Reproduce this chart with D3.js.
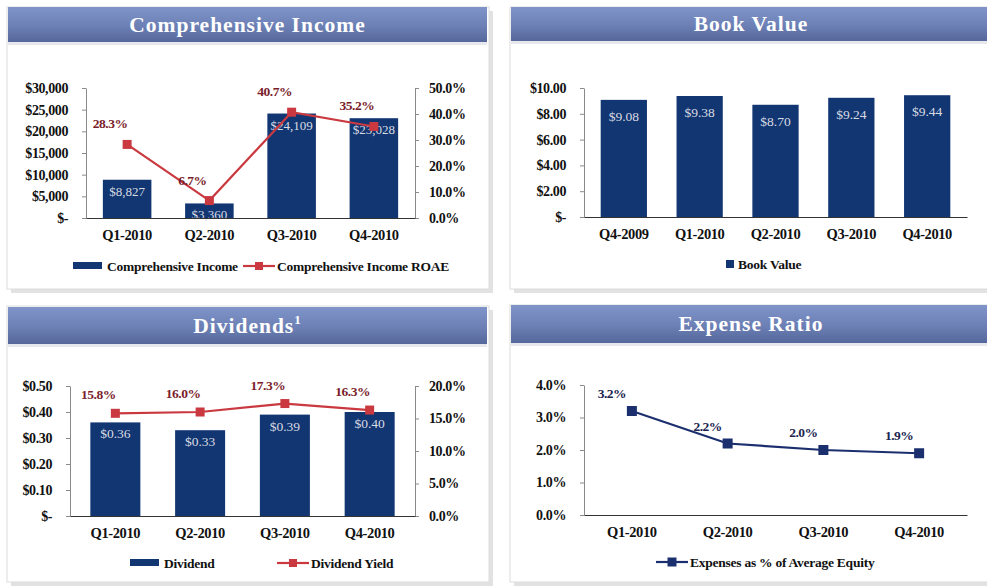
<!DOCTYPE html>
<html><head><meta charset="utf-8">
<script src="https://cdn.jsdelivr.net/npm/d3@7"></script>
<style>
body{margin:0;background:#fff;}
svg{display:block;}
text{font-family:"Liberation Serif","Times New Roman",serif;}
</style></head>
<body><svg id="c" width="987" height="588"></svg>
<script>
// ---------- DATA ----------
const ciCategories = ["Q1-2010","Q2-2010","Q3-2010","Q4-2010"];
const ciIncome = [8827, 3360, 24109, 23028];
const ciROAE = [28.3, 6.7, 40.7, 35.2];
const ciLeftTicks = [0, 5000, 10000, 15000, 20000, 25000, 30000];
const ciRightTicks = [0, 10, 20, 30, 40, 50];

const bvCategories = ["Q4-2009","Q1-2010","Q2-2010","Q3-2010","Q4-2010"];
const bvValues = [9.08, 9.38, 8.70, 9.24, 9.44];
const bvTicks = [0, 2, 4, 6, 8, 10];

const divCategories = ["Q1-2010","Q2-2010","Q3-2010","Q4-2010"];
const divValues = [0.36, 0.33, 0.39, 0.40];
const divYield = [15.8, 16.0, 17.3, 16.3];
const divLeftTicks = [0, 0.1, 0.2, 0.3, 0.4, 0.5];
const divRightTicks = [0, 5, 10, 15, 20];

const expCategories = ["Q1-2010","Q2-2010","Q3-2010","Q4-2010"];
const expRatio = [3.2, 2.2, 2.0, 1.9];
const expTicks = [0, 1, 2, 3, 4];

const titles = ["Comprehensive Income", "Book Value", "Dividends", "Expense Ratio"];
const legendLabels = {
  ci: ["Comprehensive Income", "Comprehensive Income ROAE"],
  bv: ["Book Value"],
  div: ["Dividend", "Dividend Yield"],
  exp: ["Expenses as % of Average Equity"]
};

// ---------- STYLE ----------
const NAVY = "#123672", RED = "#c9393f", MAROON = "#7a1d2b", AXIS = "#8a8a8a";
const svg = d3.select("#c");
const defs = svg.append("defs");
const grad = defs.append("linearGradient").attr("id","hdr").attr("x1",0).attr("y1",0).attr("x2",0).attr("y2",1);
grad.append("stop").attr("offset","0%").attr("stop-color","#7f94c9");
grad.append("stop").attr("offset","55%").attr("stop-color","#6c80b5");
grad.append("stop").attr("offset","100%").attr("stop-color","#55679b");

const money0 = d3.format("$,.0f"), money2 = d3.format("$.2f");
const dollarTick = f => v => v === 0 ? "$-" : f(v);
const pct1 = v => d3.format(".1f")(v) + "%";

function card(x, y, w, h, hx, hy, hw, hh, title, sup) {
  svg.append("rect").attr("x", x+4).attr("y", y+4).attr("width", w).attr("height", h).attr("fill", "#e2e2e2");
  svg.append("rect").attr("x", x).attr("y", y).attr("width", w).attr("height", h).attr("fill", "#fff").attr("stroke", "#dcdcdc");
  svg.append("rect").attr("x", hx).attr("y", hy+hh).attr("width", hw).attr("height", 3).attr("fill", "#e6e8ee");
  svg.append("rect").attr("x", hx).attr("y", hy).attr("width", hw).attr("height", hh).attr("fill", "url(#hdr)");
  const t = svg.append("text").attr("x", hx + hw/2).attr("y", hy + hh/2 + 7)
    .attr("text-anchor", "middle").attr("fill", "#fff").attr("font-weight", "bold")
    .attr("font-size", 21.5).attr("letter-spacing", 1).text(title);
  if (sup) t.append("tspan").attr("font-size", 13).attr("dy", -9).text(sup);
}

function leftAxis(y, x, ticks, fmt) {
  const ax = d3.axisLeft(y).tickValues(ticks).tickFormat(fmt).tickSize(4).tickSizeOuter(0).tickPadding(14);
  const g = svg.append("g").attr("transform", `translate(${x},0)`).call(ax);
  styleAxis(g);
  return g;
}
function rightAxis(y, x, ticks, fmt) {
  const ax = d3.axisRight(y).tickValues(ticks).tickFormat(fmt).tickSize(4).tickSizeOuter(0).tickPadding(10);
  const g = svg.append("g").attr("transform", `translate(${x},0)`).call(ax);
  styleAxis(g);
  return g;
}
function styleAxis(g) {
  g.select(".domain").attr("stroke", AXIS);
  g.selectAll(".tick line").attr("stroke", AXIS);
  g.selectAll("text").attr("fill", "#111").attr("font-weight", "bold").attr("font-size", 14)
    .attr("font-family", "Liberation Serif, serif").attr("letter-spacing", -0.4);
}
function bottomAxis(x, yPos, cats) {
  const ax = d3.axisBottom(x).tickSize(0).tickPadding(12);
  const g = svg.append("g").attr("transform", `translate(0,${yPos})`).call(ax);
  g.select(".domain").attr("stroke", "#333").attr("stroke-width", 1.2);
  g.selectAll("text").attr("fill", "#111").attr("font-weight", "bold").attr("font-size", 14.5)
    .attr("font-family", "Liberation Serif, serif").attr("letter-spacing", -0.4);
  return g;
}
function bars(x, y, cats, vals, fmt, labelDy, labelSize) {
  const g = svg.append("g");
  g.selectAll("rect").data(vals).join("rect")
    .attr("x", (d,i) => x(cats[i])).attr("width", x.bandwidth())
    .attr("y", d => y(d)).attr("height", d => y(0) - y(d)).attr("fill", NAVY);
  g.selectAll("text").data(vals).join("text")
    .attr("x", (d,i) => x(cats[i]) + x.bandwidth()/2).attr("y", d => y(d) + labelDy)
    .attr("text-anchor", "middle").attr("fill", "#d9dbe2").attr("font-size", labelSize)
    .text(fmt);
}
function line(x, y, cats, vals, color, ms, labelColor, dx, dy) {
  const cx = (d,i) => x(cats[i]) + x.bandwidth()/2;
  const g = svg.append("g");
  g.append("path").datum(vals)
    .attr("d", d3.line().x(cx).y(d => y(d)))
    .attr("fill", "none").attr("stroke", color).attr("stroke-width", 2.2);
  g.selectAll("rect").data(vals).join("rect")
    .attr("x", (d,i) => cx(d,i) - ms/2).attr("y", d => y(d) - ms/2)
    .attr("width", ms).attr("height", ms).attr("fill", color);
  g.selectAll("text").data(vals).join("text")
    .attr("x", (d,i) => cx(d,i) + dx).attr("y", d => y(d) + dy)
    .attr("text-anchor", "middle").attr("fill", labelColor).attr("font-weight", "bold")
    .attr("font-size", 13.5).attr("letter-spacing", -0.5).text(pct1);
}
function legendBar(x, y, label) {
  svg.append("rect").attr("x", x).attr("y", y-4).attr("width", 29).attr("height", 7).attr("fill", NAVY);
  legText(x + 34, y, label);
}
function legendLine(x, y, label, color, ms) {
  svg.append("line").attr("x1", x).attr("x2", x+32).attr("y1", y).attr("y2", y).attr("stroke", color).attr("stroke-width", 2.2);
  svg.append("rect").attr("x", x+16-ms/2).attr("y", y-ms/2).attr("width", ms).attr("height", ms).attr("fill", color);
  legText(x + 34, y, label);
}
function legText(x, y, label) {
  svg.append("text").attr("x", x).attr("y", y+4.5).attr("font-size", 13.5).attr("font-weight", "bold")
    .attr("fill", "#111").attr("letter-spacing", -0.25).text(label);
}

// ---------- CARDS ----------
card(7, 7, 482, 282, 8, 7, 479, 35, titles[0]);
card(510, 7, 485, 282, 511, 7, 480, 34, titles[1]);
card(7, 306, 482, 276, 8, 307, 479, 37, titles[2], "1");
card(510, 305, 485, 277, 511, 305, 480, 38, titles[3]);

// ---------- 1. Comprehensive Income ----------
{
  const x = d3.scaleBand().domain(ciCategories).range([86, 415]).paddingInner(0.41).paddingOuter(0.205);
  const yL = d3.scaleLinear().domain([0, 30000]).range([218, 88]);
  const yR = d3.scaleLinear().domain([0, 50]).range([218, 88]);
  leftAxis(yL, 86, ciLeftTicks, dollarTick(money0));
  rightAxis(yR, 415, ciRightTicks, pct1);
  bars(x, yL, ciCategories, ciIncome, money0, 16, 13);
  bottomAxis(x, 218, ciCategories);
  line(x, yR, ciCategories, ciROAE, RED, 9, MAROON, -17, -16);
  legendBar(73, 266, legendLabels.ci[0]);
  legendLine(243, 266, legendLabels.ci[1], RED, 8);
}

// ---------- 2. Book Value ----------
{
  const x = d3.scaleBand().domain(bvCategories).range([584, 967]).paddingInner(0.39).paddingOuter(0.22);
  const y = d3.scaleLinear().domain([0, 10]).range([217, 88]);
  leftAxis(y, 584, bvTicks, dollarTick(money2));
  bars(x, y, bvCategories, bvValues, money2, 21, 13.5);
  bottomAxis(x, 217, bvCategories);
  svg.append("rect").attr("x", 726).attr("y", 260).attr("width", 8).attr("height", 8).attr("fill", NAVY);
  legText(738, 264, legendLabels.bv[0]);
}

// ---------- 3. Dividends ----------
{
  const x = d3.scaleBand().domain(divCategories).range([70, 415]).paddingInner(0.41).paddingOuter(0.24);
  const yL = d3.scaleLinear().domain([0, 0.5]).range([516, 386]);
  const yR = d3.scaleLinear().domain([0, 20]).range([516, 386]);
  leftAxis(yL, 70, divLeftTicks, dollarTick(money2));
  rightAxis(yR, 415, divRightTicks, pct1);
  bars(x, yL, divCategories, divValues, money2, 16, 13.5);
  bottomAxis(x, 516, divCategories);
  line(x, yR, divCategories, divYield, RED, 9, MAROON, -17, -14);
  legendBar(130, 563, legendLabels.div[0]);
  legendLine(277, 563, legendLabels.div[1], RED, 8);
}

// ---------- 4. Expense Ratio ----------
{
  const x = d3.scaleBand().domain(expCategories).range([584, 967]).paddingInner(0).paddingOuter(0);
  const y = d3.scaleLinear().domain([0, 4]).range([515, 385]);
  leftAxis(y, 584, expTicks, pct1);
  bottomAxis(x, 515, expCategories);
  line(x, y, expCategories, expRatio, "#1b2f6e", 10, "#1a2550", -20, -13);
  legendLine(656, 562, legendLabels.exp[0], "#1b2f6e", 9);
}
</script></body></html>
